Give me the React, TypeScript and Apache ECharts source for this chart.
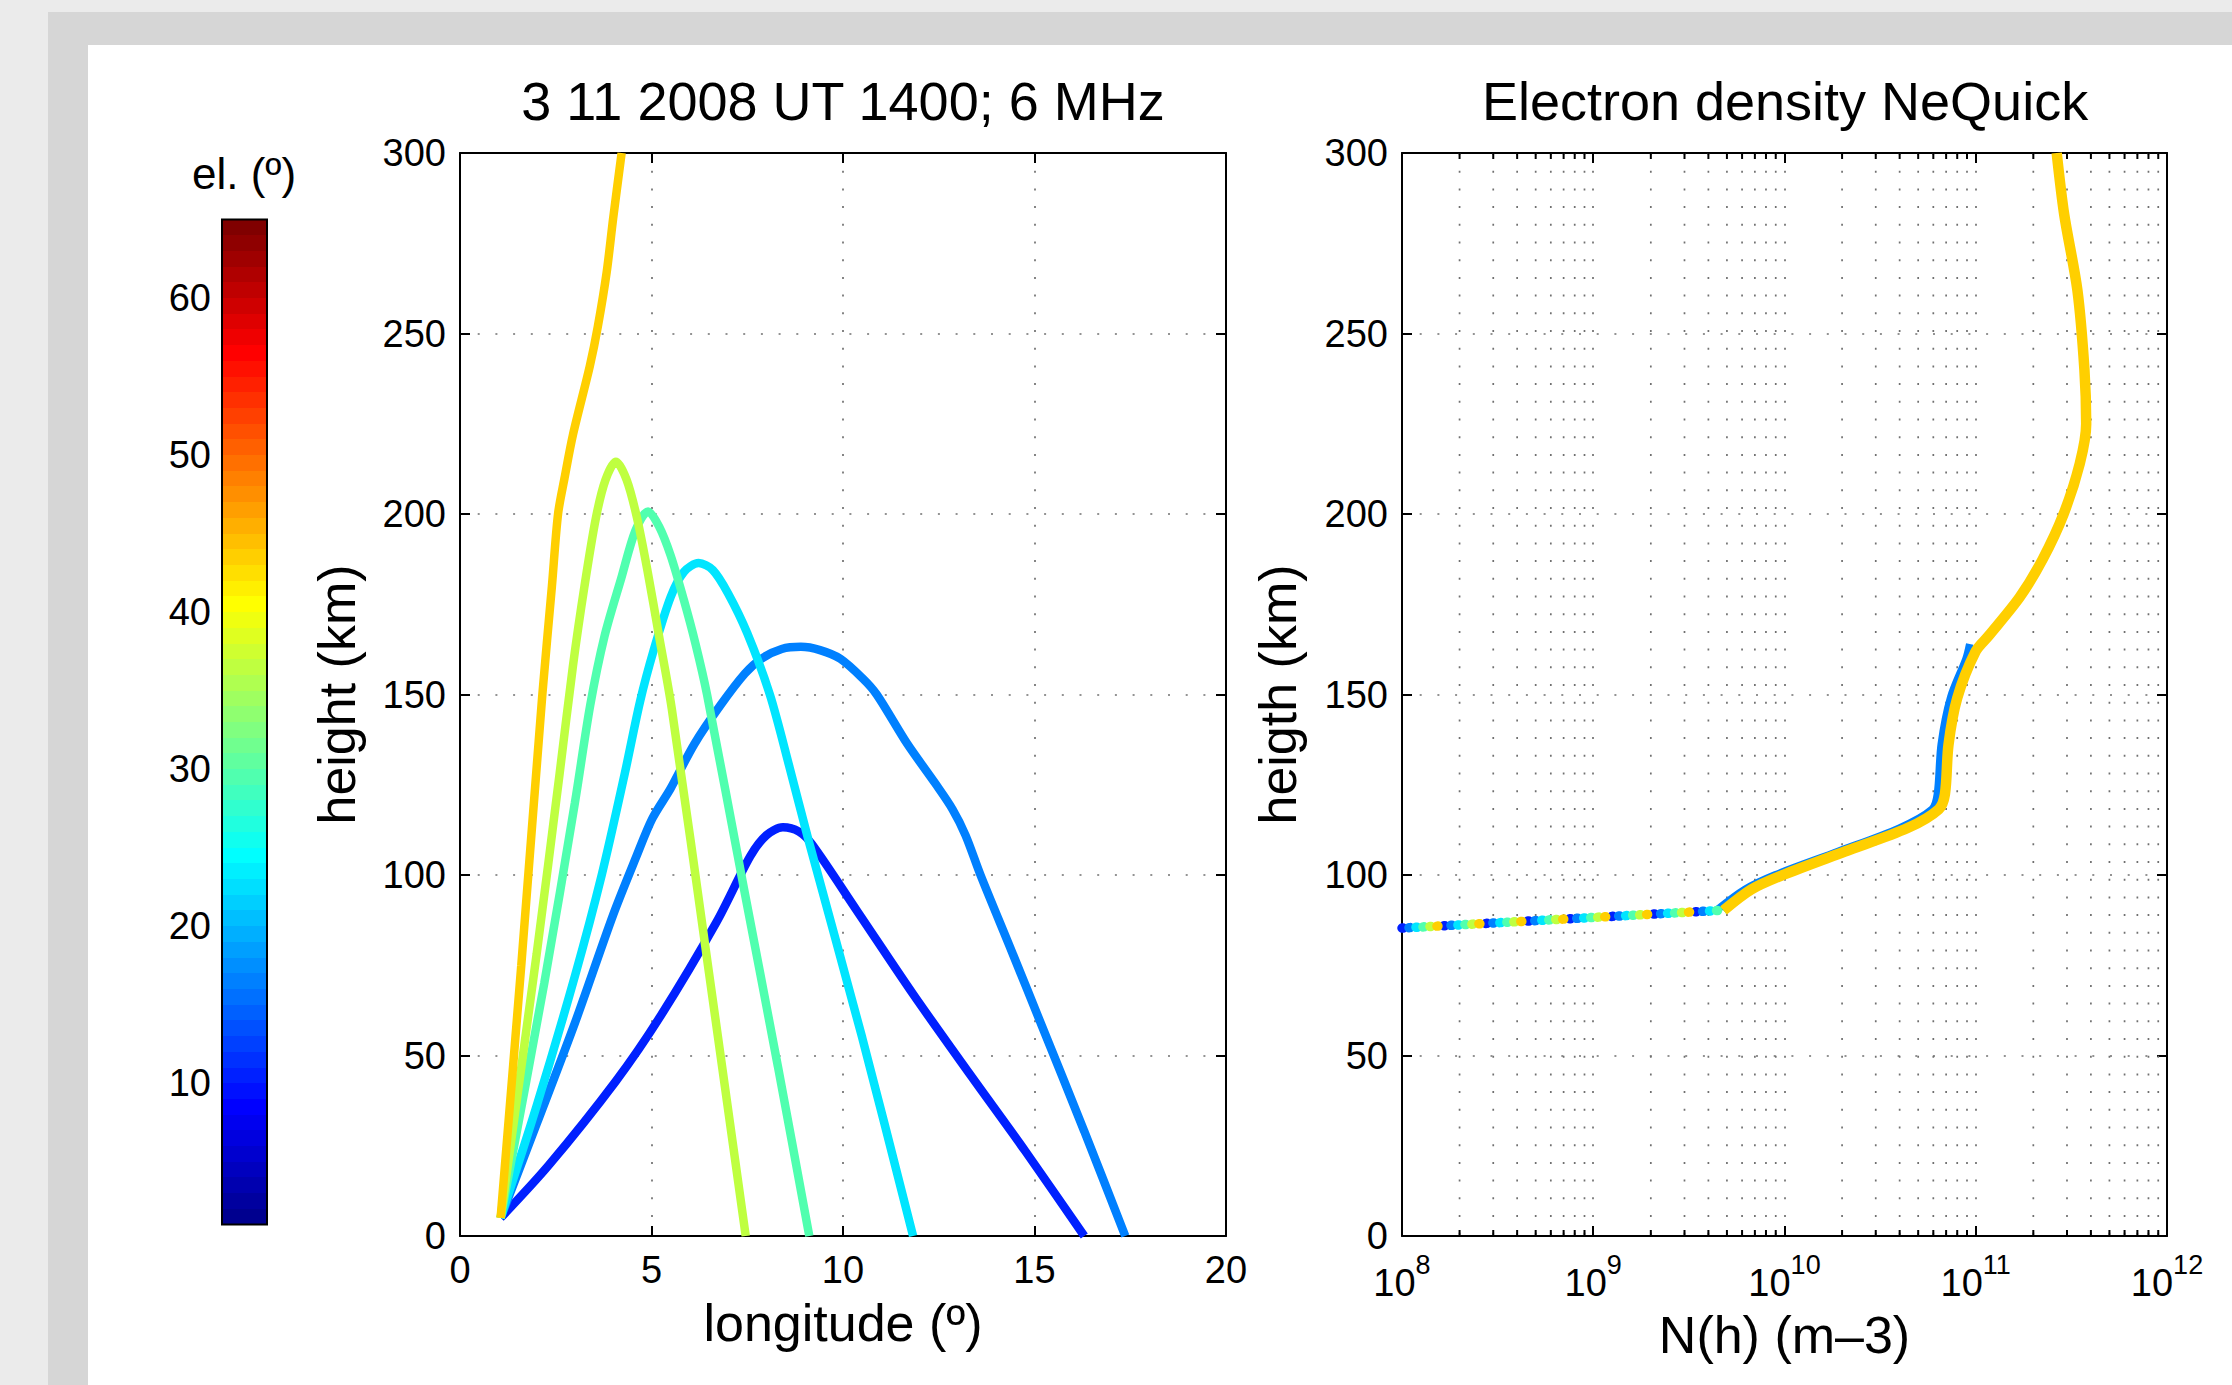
import React, { useEffect, useRef } from 'react';
import * as echarts from 'echarts';

const FONT = '"Liberation Sans", Arial, Helvetica, sans-serif';

// ---------------- data ----------------
// Ray paths: [longitude (º), height (km)]
const rayEl10: [number, number][] = [[1.06, 5], [2.31, 19.5], [4.07, 42.9], [5.24, 61], [6.7, 87], [7.58, 105.2], [8.0, 111], [8.43, 113.2], [8.85, 112], [9.19, 108.5], [10.37, 90], [11.83, 67], [13.3, 45], [14.76, 23.5], [16.3, 0]];
const rayEl16: [number, number][] = [[1.06, 5], [2.0, 31], [3.0, 59], [4.0, 89], [4.6, 105], [5.02, 115.6], [5.5, 124], [6.12, 136.3], [6.8, 147], [7.44, 155.8], [7.87, 159.9], [8.4, 162.6], [8.9, 163.2], [9.4, 162.3], [9.93, 159.9], [10.51, 154.5], [10.88, 150], [11.68, 136.3], [12.4, 125.5], [12.86, 118.2], [13.2, 111], [13.59, 100], [14.4, 79], [15.2, 58], [16.3, 29], [17.37, 0]];
const rayEl23: [number, number][] = [[1.06, 5], [2.0, 36], [3.0, 72], [3.7, 100], [4.3, 128], [4.7, 148], [5.05, 162], [5.5, 177], [5.85, 184], [6.23, 186.4], [6.6, 184.5], [7.0, 178], [7.5, 167], [8.09, 150], [8.6, 130], [9.09, 110], [10.5, 55], [11.83, 0]];
const rayEl29: [number, number][] = [[1.06, 5], [2.2, 70], [3.0, 120], [3.4, 147], [3.77, 166], [4.21, 182.2], [4.58, 195.4], [4.91, 200.7], [5.2, 196.5], [5.5, 188.5], [5.85, 176], [6.15, 164], [6.45, 150], [7.4, 97], [8.3, 47], [9.12, 0]];
const rayEl36: [number, number][] = [[1.06, 5], [2.0, 78], [2.6, 128], [2.95, 158], [3.25, 180], [3.55, 199], [3.8, 209.5], [4.07, 214.5], [4.35, 209.5], [4.62, 199], [4.9, 184], [5.2, 166], [5.53, 146], [6.5, 73], [7.46, 0]];
const rayEl43: [number, number][] = [[1.06, 5], [1.6, 75], [2.15, 150], [2.4, 180], [2.56, 200], [2.73, 210], [2.95, 222], [3.39, 241], [3.6, 252], [3.83, 267], [4.0, 282], [4.22, 300]];

const rays = [rayEl10, rayEl16, rayEl23, rayEl29, rayEl36, rayEl43];
const rayColors = ['#0020ff', '#0080ff', '#00e5ff', '#50ffaf', '#bfff40', '#ffcf00'];
// maximum height reached by each ray (km)
const rayTops = [113, 163, 186, 201, 214, 300];

// Electron density profile: [N(h) (m-3), height (km)]
const profileMain: [number, number][] = [[4.8e9, 90.2], [6.7e9, 96], [9.8e9, 100], [2.07e10, 106.5], [4.4e10, 113], [6.4e10, 118.2], [6.9e10, 122.4], [7.2e10, 136], [8.0e10, 149], [1.0e11, 162], [1.17e11, 166.3], [1.7e11, 177], [2.24e11, 187.5], [2.88e11, 200], [3.5e11, 214], [3.78e11, 225], [3.7e11, 240], [3.4e11, 262], [2.9e11, 283], [2.65e11, 300]];
const profileEl16: [number, number][] = [[4.4e9, 90.2], [6.2e9, 96], [8.9e9, 100], [1.9e10, 106.5], [3.98e10, 113], [5.9e10, 118.2], [6.3e10, 122.4], [6.6e10, 136.3], [7.4e10, 149.3], [8.9e10, 160], [9.3e10, 164]];
const profileLow: [number, number][] = [[1e8, 85.3], [4.6e9, 90.2]];

const elevTicks = [10, 20, 30, 40, 50, 60];
const densityMinor = [2e8, 3e8, 4e8, 5e8, 6e8, 7e8, 8e8, 9e8, 2e9, 3e9, 4e9, 5e9, 6e9, 7e9, 8e9, 9e9, 2e10, 3e10, 4e10, 5e10, 6e10, 7e10, 8e10, 9e10, 2e11, 3e11, 4e11, 5e11, 6e11, 7e11, 8e11, 9e11];

// ---------------- jet colormap (64) ----------------
function jet64(): string[] {
  const n = 16;
  const u: number[] = [];
  for (let i = 1; i <= n; i++) u.push(i / n);
  for (let i = 0; i < n - 1; i++) u.push(1);
  for (let i = n; i >= 1; i--) u.push(i / n);
  const out: string[] = [];
  const get = (j: number) => (j >= 1 && j <= u.length ? u[j - 1] : 0);
  for (let k = 1; k <= 64; k++) {
    const r = get(k - 24), g = get(k - 8), b = get(k + 8);
    const h = (v: number) => Math.round(v * 255).toString(16).padStart(2, '0');
    out.push('#' + h(r) + h(g) + h(b));
  }
  return out;
}

export default function App() {
  const ref = useRef<HTMLDivElement>(null);
  useEffect(() => {
    if (!ref.current) return;
    const chart = echarts.init(ref.current, null, { renderer: 'svg' });
    const jet = jet64();
    const stops: { offset: number; color: string }[] = [];
    for (let k = 64; k >= 1; k--) {
      stops.push({ offset: (64 - k) / 64, color: jet[k - 1] });
      stops.push({ offset: (65 - k) / 64, color: jet[k - 1] });
    }

    const axisLine = { show: true, onZero: false, lineStyle: { color: '#000', width: 2 } };
    const tickIn = (len: number) => ({ show: true, inside: true, length: len, lineStyle: { color: '#000', width: 2 } });
    const dotted = { show: true, lineStyle: { color: '#707070', width: 1.7, type: [2, 15.7] } };
    const labelStyle = { color: '#000', fontFamily: FONT, fontSize: 38 };
    const nameStyle = { color: '#000', fontFamily: FONT, fontSize: 52 };

    const raySeries = rays.map((d, i) => ({
      type: 'line', xAxisIndex: 1, yAxisIndex: 2, data: d, symbol: 'none', smooth: 0.3,
      lineStyle: { color: rayColors[i], width: 8.5 }, z: 3 + i, silent: true,
    }));
    const profSeries = rays.map((_, i) => ({
      type: 'line', xAxisIndex: 3, yAxisIndex: 4,
      data: i === 1 ? profileEl16 : profileMain.filter((p) => p[1] <= rayTops[i]),
      symbol: 'none', smooth: 0.3,
      lineStyle: { color: rayColors[i], width: i === 5 ? 10.5 : 7.5 }, z: 3 + i, silent: true,
    }));
    const lowSeries = rays.map((_, i) => ({
      type: 'line', xAxisIndex: 3, yAxisIndex: 4, data: profileLow, symbol: 'none',
      lineStyle: { color: rayColors[i], width: 9.5, cap: 'round', type: [1, 41], dashOffset: -7 * i }, z: 3 + i, silent: true,
    }));

    const option: any = {
      animation: false,
      backgroundColor: 'transparent',
      textStyle: { fontFamily: FONT },
      grid: [
        { left: 222, top: 219.5, width: 45, height: 1005, outerBoundsMode: 'none' },
        { left: 460, top: 153, width: 766, height: 1083, outerBoundsMode: 'none' },
        { left: 1402, top: 153, width: 765, height: 1083, outerBoundsMode: 'none' },
      ],
      xAxis: [
        { gridIndex: 0, type: 'value', min: 0, max: 1, show: false },
        {
          gridIndex: 1, type: 'value', min: 0, max: 20, interval: 5, position: 'bottom',
          axisLine, axisTick: tickIn(10), splitLine: dotted,
          axisLabel: { ...labelStyle, margin: 15 },
          name: 'longitude (º)', nameLocation: 'middle', nameGap: 61, nameTextStyle: nameStyle,
        },
        {
          gridIndex: 1, type: 'value', min: 0, max: 20, interval: 5, position: 'top',
          axisLine, axisTick: tickIn(10), axisLabel: { show: false }, splitLine: { show: false },
        },
        {
          gridIndex: 2, type: 'log', logBase: 10, min: 1e8, max: 1e12, splitNumber: 4, position: 'bottom',
          axisLine, axisTick: tickIn(10), splitLine: dotted, minorTick: { show: false },
          axisLabel: {
            margin: 28,
            formatter: (v: number) => `{b|10}{s|${Math.round(Math.log10(v))}}`,
            rich: {
              b: { fontFamily: FONT, fontSize: 38, lineHeight: 38, color: '#000', verticalAlign: 'bottom' },
              s: { fontFamily: FONT, fontSize: 27, lineHeight: 27, color: '#000', verticalAlign: 'bottom', padding: [0, 0, 24, 0] },
            },
          },
          name: 'N(h) (m–3)', nameLocation: 'middle', nameGap: 73, nameTextStyle: nameStyle,
        },
        {
          gridIndex: 2, type: 'log', logBase: 10, min: 1e8, max: 1e12, splitNumber: 4, position: 'top',
          axisLine, axisTick: tickIn(10), axisLabel: { show: false }, splitLine: { show: false },
        },
      ],
      yAxis: [
        {
          gridIndex: 0, type: 'value', min: 1, max: 65, position: 'left',
          axisLine: { show: false }, splitLine: { show: false },
          axisTick: { ...tickIn(10), customValues: elevTicks },
          axisLabel: { ...labelStyle, margin: 11, customValues: elevTicks },
        },
        {
          gridIndex: 0, type: 'value', min: 1, max: 65, position: 'right',
          axisLine: { show: false }, splitLine: { show: false },
          axisTick: { ...tickIn(10), customValues: elevTicks },
          axisLabel: { show: false, customValues: elevTicks },
        },
        {
          gridIndex: 1, type: 'value', min: 0, max: 300, interval: 50, position: 'left',
          axisLine, axisTick: tickIn(10), splitLine: dotted,
          axisLabel: { ...labelStyle, margin: 14 },
          name: 'height (km)', nameLocation: 'middle', nameGap: 97, nameTextStyle: nameStyle,
        },
        {
          gridIndex: 1, type: 'value', min: 0, max: 300, interval: 50, position: 'right',
          axisLine, axisTick: tickIn(10), axisLabel: { show: false }, splitLine: { show: false },
        },
        {
          gridIndex: 2, type: 'value', min: 0, max: 300, interval: 50, position: 'left',
          axisLine, axisTick: tickIn(10), splitLine: dotted,
          axisLabel: { ...labelStyle, margin: 14 },
          name: 'heigth (km)', nameLocation: 'middle', nameGap: 98, nameTextStyle: nameStyle,
        },
        {
          gridIndex: 2, type: 'value', min: 0, max: 300, interval: 50, position: 'right',
          axisLine, axisTick: tickIn(10), axisLabel: { show: false }, splitLine: { show: false },
        },
      ],
      graphic: [
        { type: 'text', x: 843, y: 101, style: { text: '3 11 2008 UT 1400; 6 MHz', font: `54px ${FONT}`, fill: '#000', align: 'center', verticalAlign: 'middle' } },
        { type: 'text', x: 1785, y: 101, style: { text: 'Electron density NeQuick', font: `54px ${FONT}`, fill: '#000', align: 'center', verticalAlign: 'middle' } },
        { type: 'text', x: 244, y: 173, style: { text: 'el. (º)', font: `44px ${FONT}`, fill: '#000', align: 'center', verticalAlign: 'middle' } },
      ],
      series: [
        {
          type: 'custom', xAxisIndex: 0, yAxisIndex: 0, data: [[0, 1]], silent: true, z: 1,
          renderItem: (_p: any, api: any) => {
            const tl = api.coord([0, 65]);
            const br = api.coord([1, 1]);
            return {
              type: 'rect',
              shape: { x: tl[0], y: tl[1], width: br[0] - tl[0], height: br[1] - tl[1] },
              style: { fill: new echarts.graphic.LinearGradient(0, 0, 0, 1, stops), stroke: '#000', lineWidth: 2 },
            };
          },
        },
        {
          type: 'custom', xAxisIndex: 3, yAxisIndex: 4, data: densityMinor.map((v) => [v, 0]), silent: true, z: 1,
          renderItem: (_p: any, api: any) => {
            const x = api.value(0);
            const top = api.coord([x, 300]);
            const bot = api.coord([x, 0]);
            return {
              type: 'group',
              children: [
                { type: 'line', shape: { x1: top[0], y1: top[1], x2: bot[0], y2: bot[1] }, style: { stroke: '#707070', lineWidth: 1.7, lineDash: [2, 15.7] } },
                { type: 'line', shape: { x1: bot[0], y1: bot[1], x2: bot[0], y2: bot[1] - 6 }, style: { stroke: '#000', lineWidth: 2 } },
                { type: 'line', shape: { x1: top[0], y1: top[1], x2: top[0], y2: top[1] + 6 }, style: { stroke: '#000', lineWidth: 2 } },
              ],
            };
          },
        },
        ...raySeries,
        ...lowSeries,
        ...profSeries,
      ],
    };
    chart.setOption(option);
    return () => chart.dispose();
  }, []);

  return (
    <div style={{ position: 'fixed', left: 0, top: 0, width: 2232, height: 1385, background: '#ebebeb', overflow: 'hidden' }}>
      <div style={{ position: 'absolute', left: 48, top: 12, right: 0, bottom: 0, background: '#d6d6d6' }} />
      <div style={{ position: 'absolute', left: 88, top: 45, right: 0, bottom: 0, background: '#ffffff' }} />
      <div ref={ref} style={{ position: 'absolute', left: 0, top: 0, width: 2232, height: 1385 }} />
    </div>
  );
}
